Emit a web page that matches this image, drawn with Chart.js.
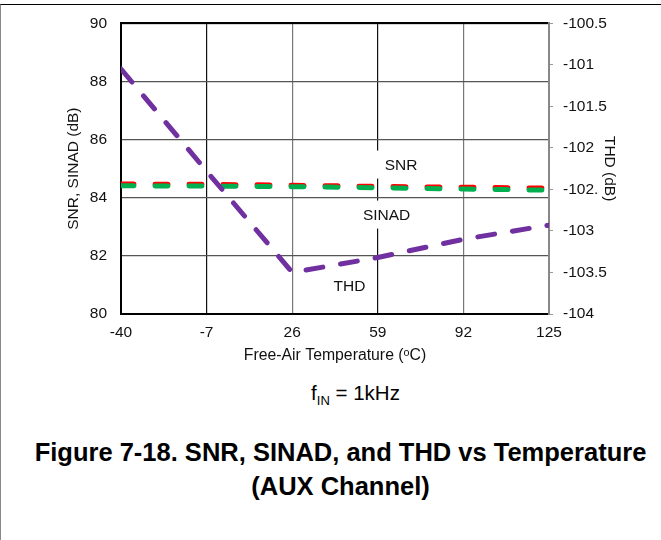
<!DOCTYPE html>
<html>
<head>
<meta charset="utf-8">
<script src="https://cdn.jsdelivr.net/npm/chart.js@4.4.1/dist/chart.umd.min.js"></script>
<style>
  body { margin: 0; width: 661px; height: 540px; overflow: hidden; background: #fff;
         font-family: 'Liberation Sans', Arial, sans-serif; position: relative; }
  #frame { position: absolute; left: 0; top: 4px; width: 661px; height: 536px;
           border-top: 1.5px solid #000; border-left: 1.5px solid #888; box-sizing: border-box; }
  #chart { position: absolute; left: 0; top: 0; }
  .note { position: absolute; left: 0; width: 661px; text-align: center; color: #000; }
  #fin { top: 381px; left: 25px; font-size: 20.5px; }
  #fin sub { font-size: 13px; vertical-align: -5px; }
  #caption { top: 435px; left: 10px; font-size: 25.5px; font-weight: bold; line-height: 34px; }
</style>
</head>
<body>
<div id="frame"></div>
<canvas id="chart" width="661" height="380"></canvas>
<div class="note" id="fin">f<sub>IN</sub> = 1kHz</div>
<div class="note" id="caption">Figure 7-18. SNR, SINAD, and THD vs Temperature<br>(AUX Channel)</div>
<script>
// temperatures (x)
const temps = [-40, -7, 26, 59, 92, 125];
// left axis series (dB)
const snr = [84.47, 84.46, 84.43, 84.39, 84.36, 84.33];
const sinad = [84.41, 84.40, 84.38, 84.34, 84.30, 84.26];
// right axis series (dB)
const thd = [-101.05, -102.28, -103.5, -103.32, -103.1, -102.93];

// in-plot labels, placed in data units
const labelText = ['SNR', 'SINAD', 'THD'];
const labelX = [68, 62.4, 48.1];
const labelY = [85.14, 83.42, 80.96];

const tickFont = { size: 15.5 };
const toPoints = (ys) => temps.map((t, i) => ({ x: t, y: ys[i] }));

const plotLabels = {
  id: 'plotLabels',
  beforeDatasetsDraw(chart) {
    const { ctx, scales } = chart;
    ctx.save();
    ctx.font = "15.5px 'Liberation Sans', Arial, sans-serif";
    ctx.textAlign = 'center';
    ctx.textBaseline = 'middle';
    labelText.forEach((txt, i) => {
      const px = scales.x.getPixelForValue(labelX[i]);
      const py = scales.y.getPixelForValue(labelY[i]);
      const w = ctx.measureText(txt).width;
      ctx.fillStyle = '#fff';
      ctx.fillRect(px - w / 2 - 9, py - 14, w + 18, 28);
      ctx.fillStyle = '#111';
      ctx.fillText(txt, px, py + 1);
    });
    ctx.restore();
  }
};

Chart.defaults.font.family = "'Liberation Sans', Arial, sans-serif";
Chart.defaults.color = '#111';

new Chart(document.getElementById('chart'), {
  type: 'line',
  data: {
    datasets: [
      {
        label: 'THD', data: toPoints(thd), yAxisID: 'y2', order: 0,
        borderColor: '#7030a0', borderWidth: 5, borderDash: [17, 18], borderCapStyle: 'round',
        pointRadius: 0, tension: 0
      },
      {
        label: 'SINAD', data: toPoints(sinad), yAxisID: 'y', order: 1,
        borderColor: '#00b050', borderWidth: 5, borderDash: [13, 21], borderCapStyle: 'round',
        pointRadius: 0, tension: 0
      },
      {
        label: 'SNR', data: toPoints(snr), yAxisID: 'y', order: 2,
        borderColor: '#ff0000', borderWidth: 5, borderDash: [13, 21], borderCapStyle: 'round',
        pointRadius: 0, tension: 0
      }
    ]
  },
  options: {
    responsive: false,
    animation: false,
    devicePixelRatio: 1,
    layout: { padding: { top: 22, left: 0, right: 0, bottom: 0 } },
    plugins: { legend: { display: false }, tooltip: { enabled: false } },
    scales: {
      x: {
        type: 'linear', position: 'bottom', min: -40, max: 125,
        afterFit: (s) => { s.height = 66; },
        ticks: { stepSize: 33, font: tickFont, padding: 9, maxRotation: 0 },
        grid: {
          drawTicks: false, lineWidth: 1.2,
          color: (c) => (c.index % 2 === 1 ? '#111' : '#777')
        },
        border: { color: '#000', width: 2 },
        title: { display: true, text: 'Free-Air Temperature (ᵒC)', font: { size: 15.8 }, padding: { bottom: 15 } }
      },
      x2: {
        type: 'linear', position: 'top', min: -40, max: 125,
        ticks: { display: false },
        grid: { drawOnChartArea: false, drawTicks: false },
        border: { color: '#000', width: 2 }
      },
      y: {
        position: 'left', min: 80, max: 90,
        afterFit: (s) => { s.width = 121; },
        ticks: { stepSize: 2, font: tickFont, padding: 14 },
        grid: { drawTicks: false, color: '#555', lineWidth: 1.2 },
        border: { color: '#000', width: 2 },
        title: { display: true, text: 'SNR, SINAD (dB)', font: { size: 15.5 }, padding: { top: 64 } }
      },
      y2: {
        position: 'right', min: -104, max: -100.5,
        afterFit: (s) => { s.width = 112; },
        ticks: {
          stepSize: 0.5, font: tickFont, padding: 10,
          callback: (v) => (v === -102.5 ? '-102.' : String(v))
        },
        grid: { drawOnChartArea: false, drawTicks: true, tickLength: 4, color: '#999' },
        border: { color: '#888', width: 2 },
        title: { display: true, text: 'THD (dB)', font: { size: 15.5 }, padding: { top: 42 } }
      }
    }
  },
  plugins: [plotLabels]
});
</script>
</body>
</html>
